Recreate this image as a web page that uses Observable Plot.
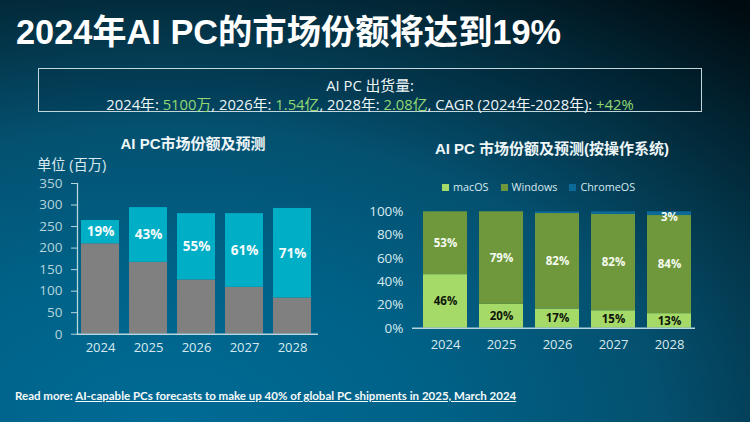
<!DOCTYPE html>
<html lang="zh"><head><meta charset="utf-8">
<script src="https://cdn.jsdelivr.net/npm/d3@7"></script>
<script src="https://cdn.jsdelivr.net/npm/@observablehq/plot@0.6"></script>
<style>
html,body{margin:0;padding:0;width:750px;height:422px;overflow:hidden}
body{position:relative;color:#fff;font-family:"Liberation Sans","Noto Sans CJK SC",sans-serif;
background:radial-gradient(ellipse 800px 480px at 22% 100%,#006b96 0%,#006186 35%,#04506f 62%,#033448 82%,#000b10 112%)}
.a{position:absolute;white-space:nowrap}
#title{left:16px;top:12px;font-size:34.3px;font-weight:700;line-height:40px}
#box{left:38px;top:68px;width:662px;height:35px;border:1px solid #c3d6da;background:rgba(0,20,30,.12);text-align:center;font-family:"Open Sans","Noto Sans CJK SC",sans-serif;font-size:14.8px;line-height:18.5px;padding-top:7px;box-sizing:content-box;color:#eef6f8}
#box b{font-weight:400;color:#93d873}
.ct{font-size:15px;font-weight:700;color:#eef6f8;transform:translateX(-50%)}
#unit{left:37px;top:153px;font-size:14.3px;font-family:"Open Sans","Noto Sans CJK SC",sans-serif;color:#d8eaef}
#legend{left:442px;top:179px;font:10.8px "Open Sans",sans-serif;color:#d8eaef;display:flex;gap:12px}
#legend i{display:inline-block;width:7px;height:7px;margin-right:4px}
#src{left:15px;top:389px;font:700 11.5px Lato,sans-serif;color:#f4f9fa}
#src u{text-underline-offset:1px}
#c1,#c2{position:absolute}
#c1{left:20px;top:170px}#c2{left:360px;top:190px}
svg{background:transparent!important;overflow:visible}
</style></head><body>
<div class="a" id="title">2024年AI PC的市场份额将达到19%</div>
<div class="a" id="box">AI PC 出货量:<br>2024年: <b>5100万</b>, 2026年: <b>1.54亿</b>, 2028年: <b>2.08亿</b>, CAGR (2024年-2028年): <b>+42%</b></div>
<div class="a ct" style="left:193px;top:132px">AI PC市场份额及预测</div>
<div class="a ct" style="left:552px;top:137px">AI PC 市场份额及预测(按操作系统)</div>
<div class="a" id="unit">单位 (百万)</div>
<div class="a" id="legend"></div>
<div id="c1"></div><div id="c2"></div>
<div class="a" id="src">Read more: <u>AI-capable PCs forecasts to make up 40% of global PC shipments in 2025, March 2024</u></div>
<script>
const years=["2024","2025","2026","2027","2028"];
const nonAi=[210,167,126,109,84];
const aiPc=[54,127,154,171,208];
const aiShare=["19%","43%","55%","61%","71%"];
const macOS=[46,20.5,16.5,15,12.5];
const windows=[54,79.5,82,82.7,84.3];
const chromeOS=[0,0,1.5,2.3,3.2];
const macLabels=["46%","20%","17%","15%","13%"];
const winLabels=["53%","79%","82%","82%","84%"];
const osNames=["macOS","Windows","ChromeOS"];
const osColors=["#a6da68","#6f983c","#0b6a97"];
const chromeNote=[{year:"2028",y:95.5,text:"3%"}];
const font='"Open Sans","Noto Sans CJK SC",sans-serif';
const tickCol="#d8eaef", lineCol="#b6d5dc";

const left=[
  ...years.map((year,i)=>({year,kind:"non",v:nonAi[i],t:""})),
  ...years.map((year,i)=>({year,kind:"ai",v:aiPc[i],t:aiShare[i]}))
];
document.getElementById("c1").append(Plot.plot({
  width:310,height:180,marginLeft:57,marginRight:12,marginTop:13,marginBottom:16.3,
  style:{fontFamily:font,background:"transparent",color:tickCol},
  x:{domain:years,range:[54.8,296.8],paddingInner:.205,paddingOuter:.1025,label:null},
  y:{domain:[0,350],label:null},
  color:{domain:["non","ai"],range:["#808080","#00aec6"]},
  marks:[
    Plot.axisX({tickSize:0,tickPadding:9,fontSize:13,label:null,color:tickCol}),
    Plot.axisY({ticks:[0,50,100,150,200,250,300,350],tickSize:6,tickPadding:9,fontSize:13.5,label:null,color:lineCol,textStroke:"none"}),
    Plot.barY(left,{x:"year",y:"v",fill:"kind",order:["non","ai"]}),
    Plot.text(left,Plot.stackY({x:"year",y:"v",z:"kind",order:["non","ai"],text:"t",fill:"#f4fbfc",fontWeight:700,fontSize:13.5})),
    Plot.frame({anchor:"left",stroke:lineCol,strokeWidth:1.3}),
    Plot.ruleY([0],{stroke:lineCol,strokeWidth:1.5})
  ]
}));

const right=[
  ...years.map((year,i)=>({year,os:"macOS",v:macOS[i],t:macLabels[i],c:"#0d1408"})),
  ...years.map((year,i)=>({year,os:"Windows",v:windows[i],t:winLabels[i],c:"#f6fbf0"})),
  ...years.map((year,i)=>({year,os:"ChromeOS",v:chromeOS[i],t:"",c:"#fff"}))
];
document.getElementById("c2").append(Plot.plot({
  width:340,height:175,marginLeft:52,marginRight:5,marginTop:21.3,marginBottom:37.3,
  style:{fontFamily:font,background:"transparent",color:tickCol},
  x:{domain:years,range:[56.9,337.9],paddingInner:.21,paddingOuter:.105,label:null},
  y:{domain:[0,100],label:null},
  color:{domain:osNames,range:osColors},
  marks:[
    Plot.axisX({tickSize:0,tickPadding:12,fontSize:13,label:null,color:tickCol}),
    Plot.axisY({ticks:[0,20,40,60,80,100],tickFormat:d=>d+"%",tickSize:0,tickPadding:9,fontSize:13.5,label:null,color:tickCol}),
    Plot.barY(right,{x:"year",y:"v",fill:"os",order:osNames}),
    Plot.text(right,Plot.stackY({x:"year",y:"v",z:"os",order:osNames,text:"t",fill:"c",fontWeight:700,fontSize:11.5})),
    Plot.text(chromeNote,{x:"year",y:"y",text:"text",fill:"#f6fbf0",fontWeight:700,fontSize:11.5}),
    Plot.ruleY([0],{stroke:lineCol,strokeWidth:1.5})
  ]
}));

const lg=document.getElementById("legend");
osNames.forEach((n,i)=>{const s=document.createElement("span");s.innerHTML=`<i style="background:${osColors[i]}"></i>${n}`;lg.append(s);});
</script>
</body></html>
